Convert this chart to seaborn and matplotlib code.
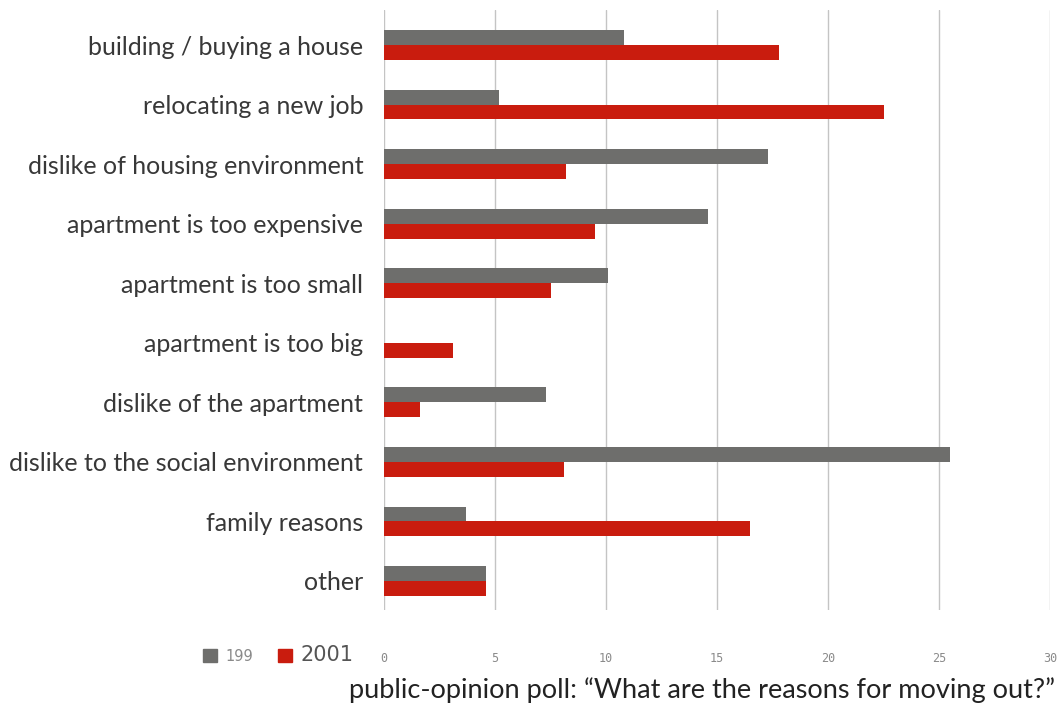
import matplotlib
matplotlib.use("Agg")
import matplotlib.pyplot as plt
import seaborn as sns
import pandas as pd

# Reasons for moving out, share of respondents (%)
categories = [
    "building / buying a house",
    "relocating a new job",
    "dislike of housing environment",
    "apartment is too expensive",
    "apartment is too small",
    "apartment is too big",
    "dislike of the apartment",
    "dislike to the social environment",
    "family reasons",
    "other",
]
values_199 = [10.8, 5.2, 17.3, 14.6, 10.1, 0.0, 7.3, 25.5, 3.7, 4.6]
values_2001 = [17.8, 22.5, 8.2, 9.5, 7.5, 3.1, 1.6, 8.1, 16.5, 4.6]
years = ["199", "2001"]
x_ticks = [0, 5, 10, 15, 20, 25, 30]

df = pd.DataFrame({
    "reason": categories * 2,
    "year": [years[0]] * len(categories) + [years[1]] * len(categories),
    "share": values_199 + values_2001,
})

sns.set_theme(style="white")
plt.rcParams["font.family"] = ["Lato", "DejaVu Sans"]

fig = plt.figure(figsize=(10.61, 7.07), dpi=100)
ax = fig.add_axes([384 / 1061, 1 - 610 / 707, (1050 - 384) / 1061, 600 / 707])

palette = {"199": "#6e6e6c", "2001": "#c91c0e"}
sns.barplot(data=df, y="reason", x="share", hue="year", order=categories,
            hue_order=years, palette=palette, orient="h", width=0.5,
            saturation=1, dodge=True, ax=ax, legend=False,
            linewidth=0, edgecolor="none")

ax.set_xlim(0, 30)
ax.set_ylim(9.487, -0.588)
ax.set_xticks(x_ticks)
ax.set_xticklabels([str(t) for t in x_ticks])
ax.xaxis.grid(True, color="#c4c4c4", linewidth=1.0)
ax.set_axisbelow(True)
for side in ["top", "right", "bottom", "left"]:
    ax.spines[side].set_visible(False)
ax.set_xlabel("")
ax.set_ylabel("")

ax.tick_params(axis="y", length=0, pad=15, labelsize=18, labelcolor="#383838")
ax.tick_params(axis="x", length=0, pad=30, labelsize=8.5, labelcolor="#8a8a8a")
for lab in ax.get_xticklabels():
    lab.set_family(["DejaVu Sans Mono", "DejaVu Sans"])

# Legend in the bottom-left margin
handles = [plt.Rectangle((0, 0), 1, 1, color=palette[y]) for y in years]
leg = fig.legend(handles, years, loc="center right",
                 bbox_to_anchor=(360 / 1061, 1 - 655 / 707), ncol=2,
                 frameon=False, handlelength=0.9, handleheight=0.9,
                 handletextpad=0.6, columnspacing=1.6, borderaxespad=0)
texts = leg.get_texts()
texts[0].set_fontsize(10.5)
texts[0].set_color("#8a8a8a")
texts[1].set_fontsize(15)
texts[1].set_color("#555555")
for t in texts:
    t.set_family(["Liberation Sans Narrow", "DejaVu Sans"])

fig.text(1055 / 1061, 1 - 690 / 707,
         "public-opinion poll: \u201cWhat are the reasons for moving out?\u201d",
         ha="right", va="center", fontsize=19.5, color="#222222")

fig.savefig("out.png", dpi=100)
